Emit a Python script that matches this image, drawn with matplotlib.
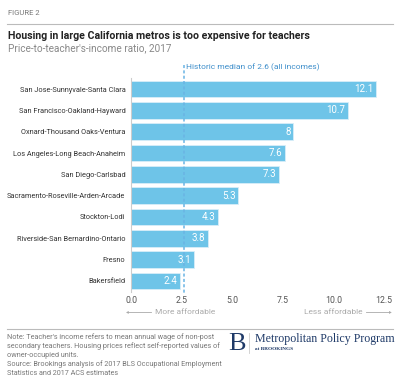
import matplotlib.pyplot as plt

metros = ['San Jose-Sunnyvale-Santa Clara', 'San Francisco-Oakland-Hayward',
          'Oxnard-Thousand Oaks-Ventura', 'Los Angeles-Long Beach-Anaheim',
          'San Diego-Carlsbad', 'Sacramento-Roseville-Arden-Arcade',
          'Stockton-Lodi', 'Riverside-San Bernardino-Ontario', 'Fresno', 'Bakersfield']
ratios = [12.1, 10.7, 8, 7.6, 7.3, 5.3, 4.3, 3.8, 3.1, 2.4]
labels = ['12.1', '10.7', '8', '7.6', '7.3', '5.3', '4.3', '3.8', '3.1', '2.4']
median = 2.6
xticks = [0, 2.5, 5, 7.5, 10, 12.5]

plt.rcParams['font.family'] = ['Roboto', 'DejaVu Sans']
W, H = 400, 385
fig = plt.figure(figsize=(W / 100, H / 100), dpi=100)

bar_col = '#6ec4e8'
grey = '#555555'
light = '#aaaaaa'
navy = '#1f3a68'


def fx(px):
    return px / W


def fy(py):
    return 1 - py / H


# axes placed by pixel box
ax = fig.add_axes([fx(131), fy(291.5), fx(253), 213 / H])
y = list(range(len(metros)))
ax.barh(y, ratios, height=0.78, color=bar_col, edgecolor='#d8eef8', linewidth=0.6)
ax.set_ylim(len(metros) - 0.5, -0.5)
ax.set_xlim(0, 12.5)
for yi, v, t in zip(y, ratios, labels):
    ax.text(v - 0.12, yi, t, color='white', ha='right', va='center', fontsize=7)
ax.set_yticks(y)
ax.set_yticklabels(metros, fontsize=5.3, color='#333333')
ax.set_xticks(xticks)
ax.set_xticklabels(['%.1f' % t for t in xticks], fontsize=6.3, color=grey)
ax.tick_params(axis='both', length=0, pad=4)
ax.tick_params(axis='x', pad=3)
for s in ['top', 'right', 'bottom']:
    ax.spines[s].set_visible(False)
ax.spines['left'].set_color('#cccccc')
ax.spines['left'].set_linewidth(0.8)
ax.plot([median, median], [-1.15, 9.6], ls=(0, (2, 1.5)), color='#6ab4e4', lw=1.1,
        clip_on=False, zorder=3)
ax.text(median + 0.12, -1.05, 'Historic median of 2.6 (all incomes)', color='#3f8fcb',
        fontsize=6, va='center', ha='left')

# header
fig.text(fx(8), fy(13), 'FIGURE 2', fontsize=5.5, color='#777777', va='center')
fig.add_artist(plt.Line2D([fx(7), fx(393)], [fy(24), fy(24)], color='#bbbbbb', lw=0.8))
fig.text(fx(8), fy(36), 'Housing in large California metros is too expensive for teachers',
         fontsize=7.6, fontweight='bold', color='#222222', va='center')
fig.text(fx(8), fy(48), "Price-to-teacher's-income ratio, 2017", fontsize=7.2,
         color='#888888', va='center')

# affordability arrows
fig.text(fx(155), fy(312), 'More affordable', fontsize=6, color=light, va='center')
fig.add_artist(plt.Line2D([fx(127), fx(151)], [fy(312), fy(312)], color=light, lw=0.6))
fig.text(fx(127), fy(312), '\u25c2', fontsize=4, color=light, va='center', ha='center')
fig.text(fx(363), fy(312), 'Less affordable', fontsize=6, color=light, va='center',
         ha='right')
fig.add_artist(plt.Line2D([fx(366), fx(390)], [fy(312), fy(312)], color=light, lw=0.6))
fig.text(fx(390), fy(312), '\u25b8', fontsize=4, color=light, va='center', ha='center')

# footer
fig.add_artist(plt.Line2D([fx(7), fx(393)], [fy(329), fy(329)], color='#bbbbbb', lw=0.8))
note = ("Note: Teacher's income refers to mean annual wage of non-post\n"
        "secondary teachers. Housing prices reflect self-reported values of\n"
        "owner-occupied units.\n"
        "Source: Brookings analysis of 2017 BLS Occupational Employment\n"
        "Statistics and 2017 ACS estimates")
fig.text(fx(7), fy(333), note, fontsize=5.2, color='#777777', va='top', linespacing=1.3)
fig.text(fx(237), fy(344), 'B', fontsize=19, color=navy, family='Liberation Serif',
         va='center', ha='center')
fig.add_artist(plt.Line2D([fx(249), fx(249)], [fy(333), fy(353)], color='#cccccc', lw=0.6))
fig.text(fx(255), fy(339), 'Metropolitan Policy Program', fontsize=8.6, color=navy,
         family='Liberation Serif', va='center')
fig.text(fx(255), fy(349), 'at BROOKINGS', fontsize=3.8, color=navy,
         family='Liberation Serif', va='center', fontweight='bold')

fig.savefig('out.png', dpi=100)
